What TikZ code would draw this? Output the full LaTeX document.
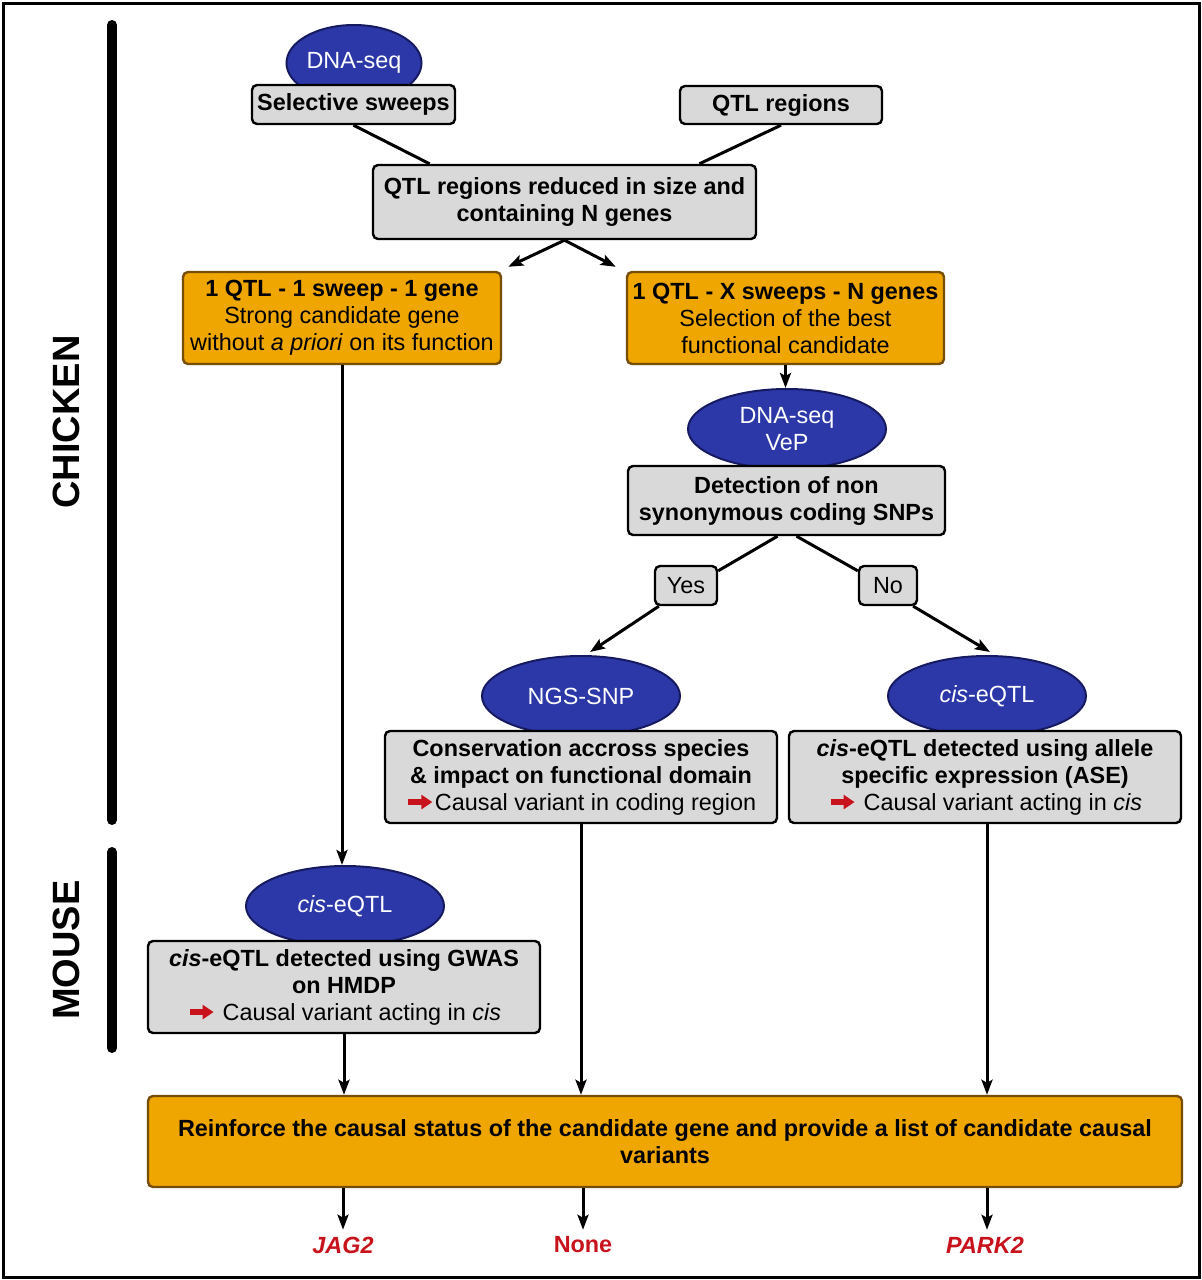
\documentclass[tikz,border=0pt]{standalone}
\usepackage{fontspec}
\setmainfont{Liberation Sans}
\usepackage{tikz}
\usetikzlibrary{shapes.geometric,arrows.meta,calc}

\definecolor{ellblue}{RGB}{44,56,168}
\definecolor{ellborder}{RGB}{22,26,96}
\definecolor{boxgray}{RGB}{217,217,217}
\definecolor{boxorange}{RGB}{240,166,0}
\definecolor{orangeborder}{RGB}{118,78,8}
\definecolor{causalred}{RGB}{200,18,28}

\newcommand{\redarrow}{\tikz[baseline=-4pt]\draw[causalred,line width=2.6pt,-{Triangle[length=5.5pt,width=7pt]}] (0pt,0pt) -- (12pt,0pt);}

\begin{document}
\begin{tikzpicture}[x=0.5pt,y=-0.5pt,
    boxsize/.style 2 args={minimum width=#1*0.5pt, minimum height=#2*0.5pt},
    graybox/.style={draw=black, fill=boxgray, rounded corners=2.5pt, line width=1.2pt,
        align=center, inner sep=0pt, font=\fontsize{11.7}{13.5}\selectfont\bfseries},
    orangebox/.style={draw=orangeborder, fill=boxorange, rounded corners=2.5pt, line width=1.2pt,
        align=center, inner sep=0pt, font=\fontsize{11.7}{13.5}\selectfont},
    blueell/.style={ellipse, draw=ellborder, fill=ellblue, line width=1pt, text=white,
        align=center, inner sep=0pt, font=\fontsize{11.7}{13.5}\selectfont},
    species/.style={rotate=90, font=\fontsize{19}{22}\selectfont\bfseries},
    genelabel/.style={text=causalred, font=\fontsize{11.7}{13.5}\selectfont\bfseries},
    conn/.style={line width=1.5pt},
    arr/.style={conn, -{Stealth[length=7.5pt,width=5.5pt,inset=1.5pt]}}]

    \useasboundingbox (0,0) rectangle (1202,1280);
    \draw[line width=1.5pt] (3,3) rectangle (1199,1277);

    % species bars
    \draw[line width=5pt, line cap=round] (112,25) -- (112,820);
    \draw[line width=5pt, line cap=round] (112,852) -- (112,1048);
    \node[species] (chicken) at (66,422) {CHICKEN};
    \node[species] (mouse) at (66,950) {MOUSE};

    % ellipses first, boxes sit on top of them
    \node[blueell, boxsize={135}{76}] (seqA) at (354,63) {DNA-seq};
    \node[blueell, boxsize={198}{80}] (vep) at (787,429) {DNA-seq\\VeP};
    \node[blueell, boxsize={198}{80}] (ngs) at (581,696) {NGS-SNP};
    \node[blueell, boxsize={198}{80}] (eqtlA) at (987,696) {\textit{cis}-eQTL};
    \node[blueell, boxsize={198}{80}] (eqtlB) at (345,906) {\textit{cis}-eQTL};

    \node[graybox, boxsize={203}{39}] (sweeps) at (353.5,104.5) {Selective sweeps};
    \node[graybox, boxsize={202}{38}] (qtl) at (781,105) {QTL regions};
    \node[graybox, boxsize={383}{74}] (reduced) at (564.5,202) {QTL regions reduced in size and\\containing N genes};
    \node[orangebox, boxsize={318}{92}] (single) at (342,318)
        {{\bfseries 1 QTL - 1 sweep - 1 gene}\\Strong candidate gene\\without \textit{a priori} on its function};
    \node[orangebox, boxsize={317}{92}] (multi) at (785.5,318)
        {{\bfseries 1 QTL - X sweeps - N genes}\\Selection of the best\\functional candidate};
    \node[graybox, boxsize={317}{69}] (detect) at (786.5,500.5) {Detection of non\\synonymous coding SNPs};
    \node[graybox, boxsize={62}{39}, font=\fontsize{11.7}{13.5}\selectfont] (yes) at (686,585.5) {Yes};
    \node[graybox, boxsize={58}{39}, font=\fontsize{11.7}{13.5}\selectfont] (no) at (888,585.5) {No};
    \node[graybox, boxsize={392}{92}] (cons) at (581,777)
        {Conservation accross species\\\& impact on functional domain\\{\mdseries\redarrow{}Causal variant in coding region}};
    \node[graybox, boxsize={392}{92}] (ase) at (985,777)
        {\textit{cis}-eQTL detected using allele\\specific expression (ASE)\\{\mdseries\redarrow{} Causal variant acting in \textit{cis}}};
    \node[graybox, boxsize={392}{92}] (gwas) at (344,987)
        {\textit{cis}-eQTL detected using GWAS\\on HMDP\\{\mdseries\redarrow{} Causal variant acting in \textit{cis}}};
    \node[orangebox, boxsize={1034}{91}, font=\fontsize{11.7}{13.5}\selectfont\bfseries] (final) at (665,1141.5)
        {Reinforce the causal status of the candidate gene and provide a list of candidate causal\\variants};

    \node[genelabel] (jag) at (343,1245) {\textit{JAG2}};
    \node[genelabel] (none) at (583,1245) {None};
    \node[genelabel] (park) at (985,1245) {\textit{PARK2}};

    % connectors
    \draw[conn] (sweeps.south) -- ($(reduced.north west)!0.15!(reduced.north east)$);
    \draw[conn] (qtl.south) -- ($(reduced.north west)!0.85!(reduced.north east)$);
    \draw[arr] (reduced.south) -- ([shift={(6,-4)}]single.north east);
    \draw[arr] (reduced.south) -- ([shift={(-10,-4)}]multi.north west);
    \draw[arr] (multi.south) -- (multi.south |- vep.north);
    \draw[conn] ([shift={(-9,0)}]detect.south) -- ([shift={(0,6)}]yes.north east);
    \draw[conn] ([shift={(10,0)}]detect.south) -- ([shift={(0,6)}]no.north west);
    \draw[arr] ([shift={(5,0)}]yes.south west) -- ([shift={(9,-3)}]ngs.north);
    \draw[arr] ([shift={(-5,0)}]no.south east) -- ([shift={(3,-3)}]eqtlA.north);
    \draw[arr] (single.south) -- (single.south |- eqtlB.north);
    \draw[arr] (gwas.south) -- (gwas.south |- final.north);
    \draw[arr] (cons.south) -- (cons.south |- final.north);
    \draw[arr] ([shift={(2,0)}]ase.south) -- ([shift={(2,0)}]ase.south |- final.north);
    \draw[arr] (jag.north |- final.south) -- (jag.north);
    \draw[arr] (none.north |- final.south) -- (none.north);
    \draw[arr] ([shift={(2,0)}]park.north |- final.south) -- ([shift={(2,0)}]park.north);
\end{tikzpicture}
\end{document}
